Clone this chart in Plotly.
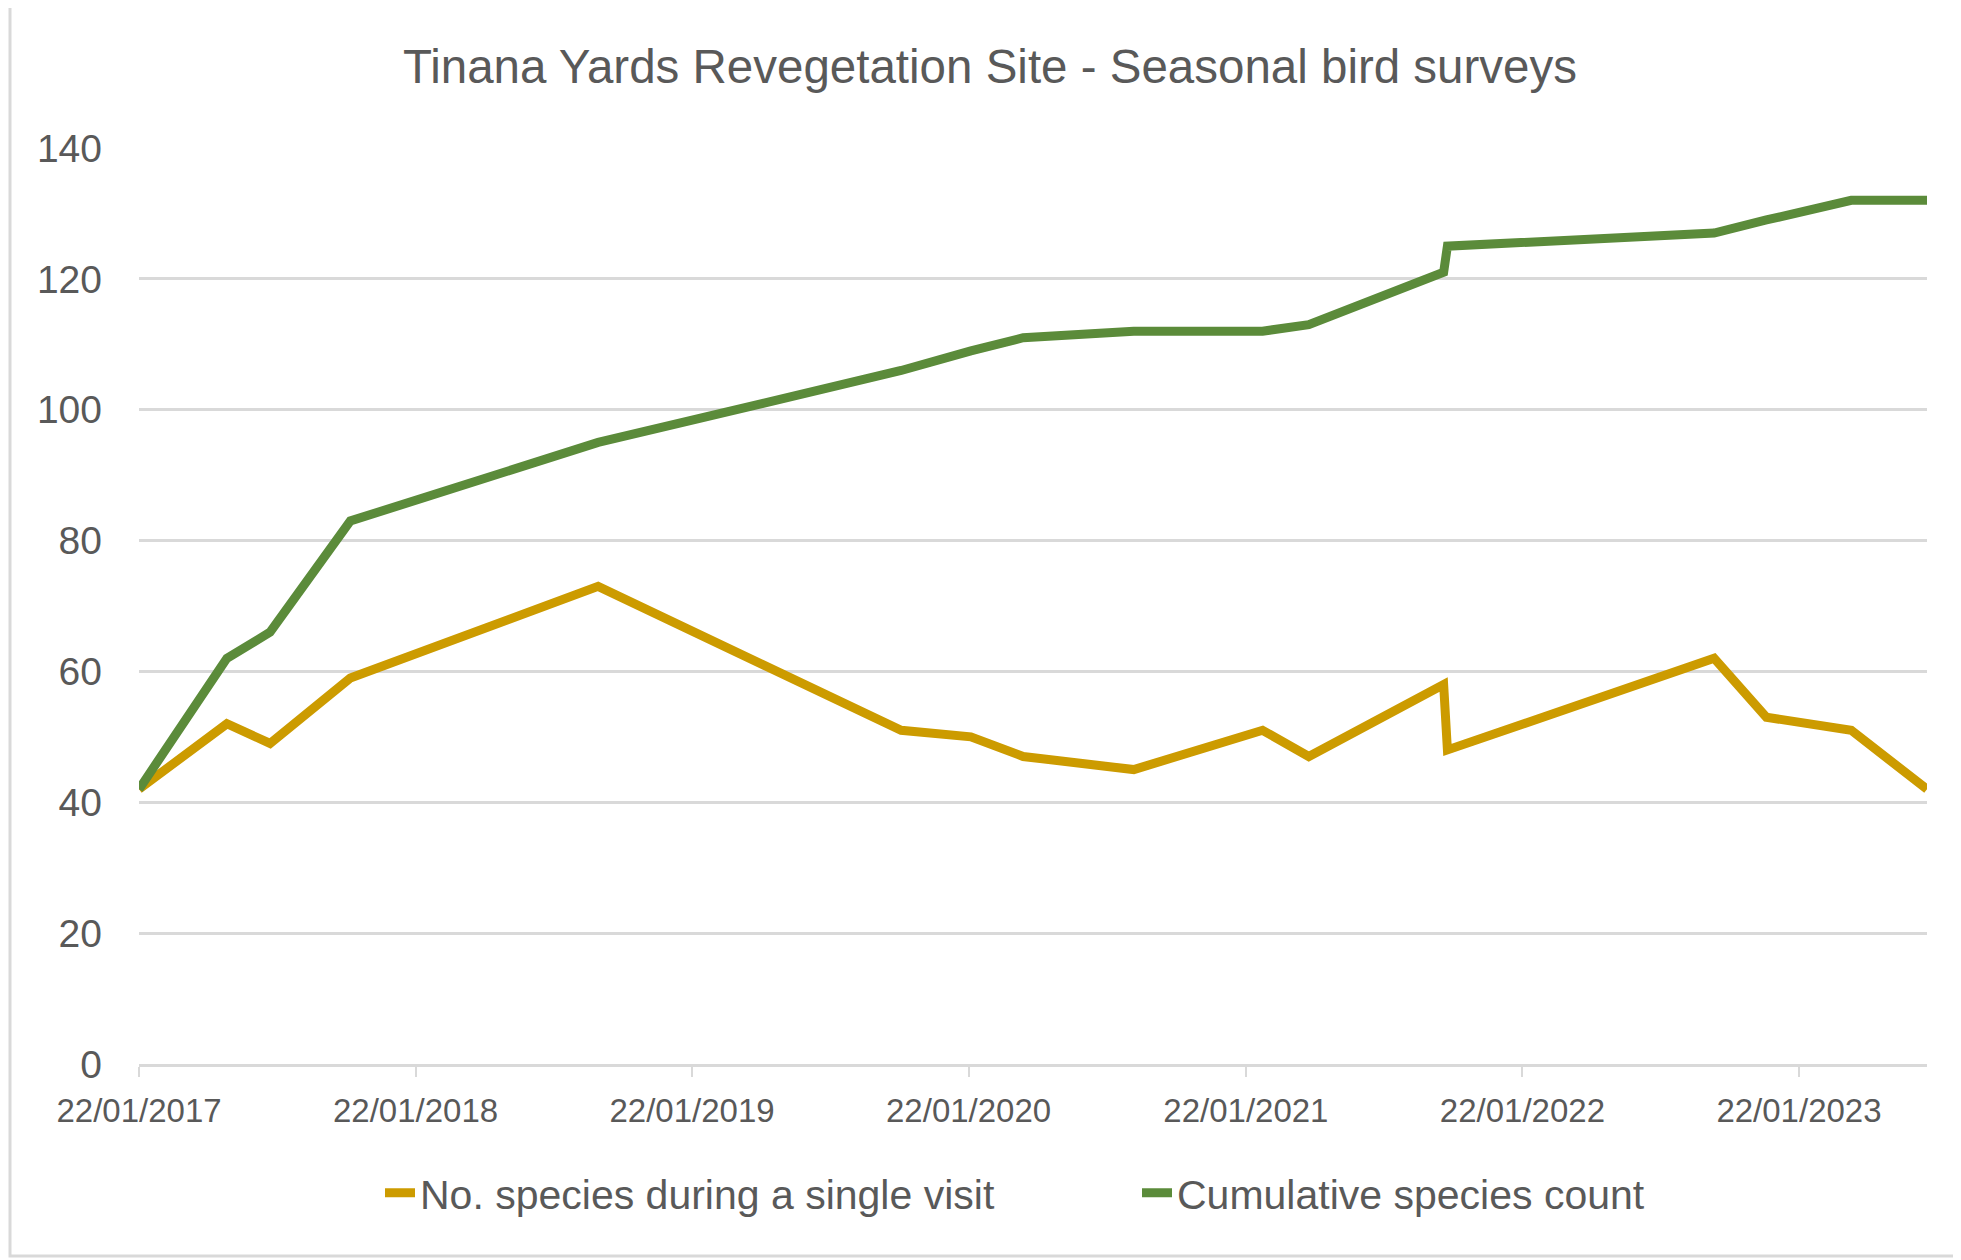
import plotly.graph_objects as go

# ---- data ----
survey_dates = ["2017-01-22", "2017-05-18", "2017-07-14", "2017-10-28", "2018-09-20",
                "2019-10-25", "2020-01-25", "2020-04-03", "2020-08-27", "2021-02-13",
                "2021-04-15", "2021-10-10", "2021-10-15", "2022-10-02", "2022-12-10",
                "2023-04-01", "2023-07-10"]
single_visit = [42, 52, 49, 59, 73, 51, 50, 47, 45, 51, 47, 58, 48, 62, 53, 51, 42]
cumulative = [42, 62, 66, 83, 95, 106, 109, 111, 112, 112, 113, 121, 125, 127, 129, 132, 132]

tick_dates = ["2017-01-22", "2018-01-22", "2019-01-22", "2020-01-22",
              "2021-01-22", "2022-01-22", "2023-01-22"]
tick_labels = ["22/01/2017", "22/01/2018", "22/01/2019", "22/01/2020",
               "22/01/2021", "22/01/2022", "22/01/2023"]

series_names = ["No. species during a single visit", "Cumulative species count"]
title_text = "Tinana Yards Revegetation Site - Seasonal bird surveys"

GOLD = "#CC9B00"
GREEN = "#5B8B3A"
TEXT = "#595959"
GRID = "#D9D9D9"
FONT = "Liberation Sans, Arial, sans-serif"

OFF = 8  # page body margin
W, H = 1961, 1260
L, T = 139 - OFF, 148 - OFF
pw, ph = 1788, 916
R, B = W - L - pw, H - T - ph


def py(y_screen):
    # screen y (reference coords) -> paper y
    return (T + ph - (y_screen - OFF)) / ph


def px(x_screen):
    return ((x_screen - OFF) - L) / pw


fig = go.Figure()
fig.add_trace(go.Scatter(x=survey_dates, y=single_visit, mode="lines", name=series_names[0],
                         line=dict(color=GOLD, width=9)))
fig.add_trace(go.Scatter(x=survey_dates, y=cumulative, mode="lines", name=series_names[1],
                         line=dict(color=GREEN, width=9)))

fig.update_layout(
    width=W, height=H,
    margin=dict(l=L, r=R, t=T, b=B),
    paper_bgcolor="white", plot_bgcolor="white",
    font=dict(family=FONT, color=TEXT),
    title=dict(text=title_text, x=(990 - OFF) / W, xref="container",
               y=1 - (66 - OFF) / H, yref="container", xanchor="center", yanchor="middle",
               font=dict(size=47.5, color=TEXT, family=FONT)),
    showlegend=True,
    legend=dict(orientation="h", x=px(1137), xanchor="center",
                y=py(1193), yanchor="middle",
                entrywidth=712, entrywidthmode="pixels",
                font=dict(size=41, color=TEXT, family=FONT),
                bgcolor="rgba(0,0,0,0)"),
    xaxis=dict(type="date", range=[survey_dates[0], survey_dates[-1]],
               tickvals=tick_dates, ticktext=tick_labels,
               showgrid=False, showline=True, linecolor=GRID, linewidth=2.5,
               ticks="outside", ticklen=10, tickwidth=2, tickcolor=GRID,
               ticklabelstandoff=6,
               tickfont=dict(size=33, color=TEXT, family=FONT), zeroline=False),
    yaxis=dict(range=[0, 140], dtick=20, tick0=0, showgrid=True, gridcolor=GRID,
               gridwidth=2.5, zeroline=False, showline=False, ticks="",
               ticklabelstandoff=36,
               tickfont=dict(size=39, color=TEXT, family=FONT)),
    shapes=[dict(type="rect", xref="paper", yref="paper",
                 x0=px(10), x1=px(1957), y0=py(1256), y1=py(2.5),
                 line=dict(color=GRID, width=3), layer="below")],
)

fig.write_html("out.html")
